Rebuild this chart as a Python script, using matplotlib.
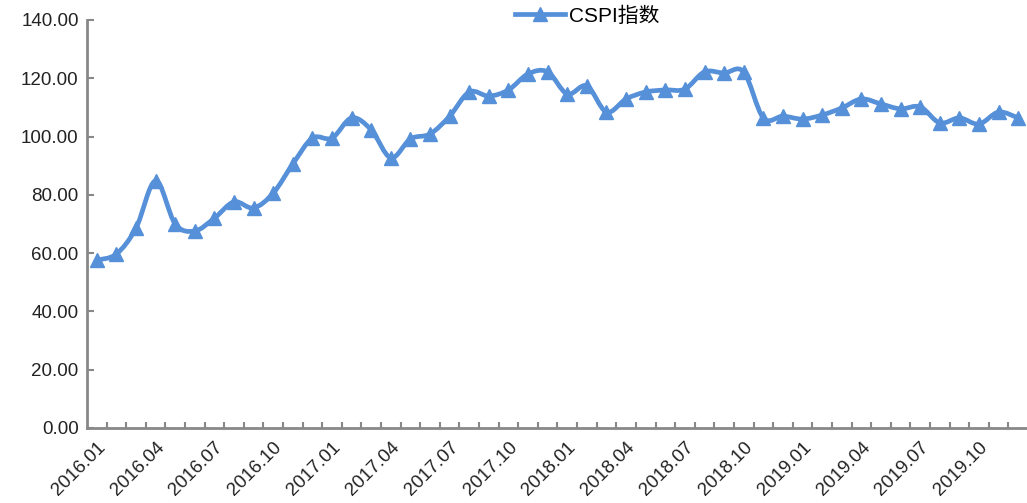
import numpy as np
import matplotlib
matplotlib.use('Agg')
import matplotlib.pyplot as plt
from matplotlib.path import Path
from matplotlib.patches import PathPatch
from matplotlib.lines import Line2D

plt.rcParams['font.family'] = ['Liberation Sans', 'Noto Sans CJK SC', 'DejaVu Sans']

months = ['%d.%02d' % (y, m) for y in range(2016, 2020) for m in range(1, 13)]
cspi = [57.6, 59.7, 68.6, 84.8, 70.0, 67.6, 72.0, 77.6, 75.5, 80.6, 90.6, 99.5,
        99.5, 106.4, 102.3, 92.7, 99.2, 100.9, 107.0, 115.3, 113.9, 116.0, 121.5, 122.2,
        114.6, 117.4, 108.4, 112.9, 115.3, 116.0, 116.3, 122.2, 121.8, 122.2, 106.4, 107.0,
        106.0, 107.4, 109.8, 112.9, 111.2, 109.5, 110.2, 104.7, 106.4, 104.3, 108.4, 106.4]
series_name = 'CSPI指数'

color = '#5590D9'
x = np.arange(len(cspi))
y = np.array(cspi)

fig = plt.figure(figsize=(10.27, 5.03), dpi=100)
ax = fig.add_axes([87 / 1027, 75 / 503, 940 / 1027, 408 / 503])

# smoothed line (bezier through the data points, like the excel smoothing)
verts = [(x[0], y[0])]
codes = [Path.MOVETO]
t = 1 / 6.0
for i in range(len(x) - 1):
    x0, y0 = (x[i - 1], y[i - 1]) if i > 0 else (x[i], y[i])
    x1, y1 = x[i], y[i]
    x2, y2 = x[i + 1], y[i + 1]
    x3, y3 = (x[i + 2], y[i + 2]) if i + 2 < len(x) else (x2, y2)
    verts += [(x1 + (x2 - x0) * t, y1 + (y2 - y0) * t),
              (x2 - (x3 - x1) * t, y2 - (y3 - y1) * t),
              (x2, y2)]
    codes += [Path.CURVE4] * 3
ax.add_patch(PathPatch(Path(verts, codes), facecolor='none', edgecolor=color,
                       lw=3.4, capstyle='round', joinstyle='round', zorder=3))
ax.plot(x, y, ls='none', marker='^', ms=10, color=color, zorder=4)

ax.set_xlim(-0.5, 47.45)
ax.set_ylim(0, 140)
ax.set_yticks(np.arange(0, 141, 20))
ax.set_yticklabels(['%.2f' % v for v in np.arange(0, 141, 20)], fontsize=13.5, color='#222222')
ax.set_xticks(x[::3])
ax.set_xticklabels(months[::3], rotation=45, ha='right', va='top', fontsize=13.5,
                   color='#222222', rotation_mode='anchor')
ax.set_xticks(np.arange(0.5, 47.5, 1), minor=True)
ax.tick_params(axis='x', which='major', length=0, pad=8)
ax.tick_params(axis='x', which='minor', direction='in', length=4, width=1.5, color='#888888')
ax.tick_params(axis='y', direction='in', length=5, width=1.5, color='#888888', pad=6)

for s in ['top', 'right']:
    ax.spines[s].set_visible(False)
for s in ['left', 'bottom']:
    ax.spines[s].set_color('#888888')
    ax.spines[s].set_linewidth(2)

handle = Line2D([], [], color=color, lw=3.4, marker='^', ms=10)
fig.legend([handle], [series_name], loc='upper center', bbox_to_anchor=(0.572, 1.025),
           frameon=False, fontsize=15, handlelength=2.4, handletextpad=0.2)

fig.savefig('out.png', dpi=100)
